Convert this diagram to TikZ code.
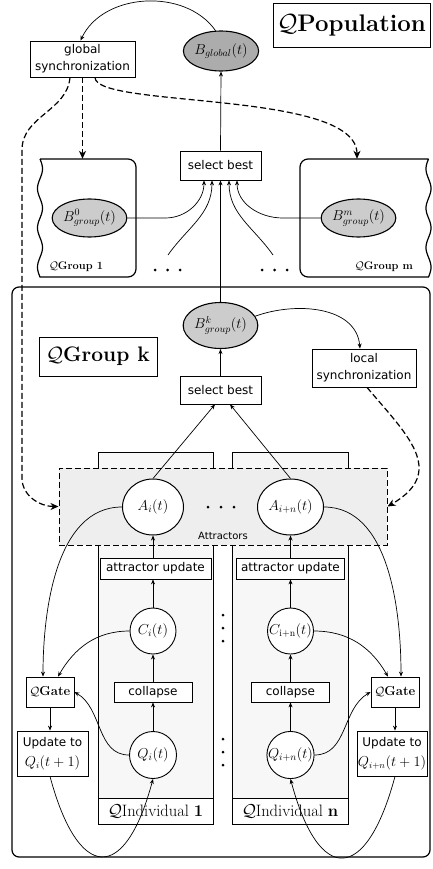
\documentclass[tikz,border=0pt]{standalone}
\usepackage{fontspec}
\newfontfamily\dvs{DejaVu Sans}
\usetikzlibrary{shapes.geometric,arrows.meta,calc}
\begin{document}
\begin{tikzpicture}[x=1pt,y=-1pt,
  conn/.style={line width=0.7pt,-{Stealth[length=5pt,width=4pt]}},
  dconn/.style={line width=1.2pt,dash pattern=on 6pt off 3pt,-{Stealth[length=8pt,width=7pt,inset=2.5pt]}},
  box/.style={draw,line width=0.8pt,fill=white,inner sep=0pt,align=center},
  sbox/.style={box,font=\dvs\fontsize{12}{14}\selectfont},
  ell/.style={draw,ellipse,line width=1.1pt,inner sep=0pt,font=\fontsize{14}{16}\selectfont},
  circ/.style={draw,circle,line width=0.9pt,inner sep=0pt,minimum size=47pt,fill=white,font=\fontsize{14}{16}\selectfont},
  gline/.style={line width=1.2pt},
  panel/.style={draw,line width=0.7pt,fill=gray!6,inner sep=0pt}
]
\useasboundingbox (0,0) rectangle (432,869);

% ---- QPopulation level
\node[box,minimum width=157pt,minimum height=44pt,font=\fontsize{24}{28}\selectfont] (pop) at (351.5,25) {$\mathcal{Q}$\textbf{Population}};
\node[sbox,minimum width=105pt,minimum height=36pt,font=\dvs\fontsize{12}{17}\selectfont] (gsync) at (82.5,59) {global\\synchronization};
\node[ell,fill=gray!65,minimum width=72pt,minimum height=40pt] (bglob) at (221,51) {$B_{global}(t)$};
\node[sbox,minimum width=81pt,minimum height=29pt] (sbtop) at (220.5,165.5) {select best};

% group 1 and group m
\node[minimum width=98pt,minimum height=118pt,inner sep=0pt] (grp1) at (87,218) {};
\node[minimum width=130pt,minimum height=118pt,inner sep=0pt] (grpm) at (365,218) {};
\draw[gline] plot[domain=159:277,samples=90] ({40+2.5*sin((\x-159)*9.15)},\x) [rounded corners=8pt] -- (136,277) -- (136,159) -- (40,159);
\draw[gline] plot[domain=159:277,samples=90] ({428.5-2.5*sin((\x-159)*9.15)},\x) [rounded corners=8pt] -- (300,277) -- (300,159) -- (428.5,159);
\node[font=\fontsize{11}{13}\selectfont] (g1lab) at (76,267) {$\mathcal{Q}$\textbf{Group 1}};
\node[font=\fontsize{11}{13}\selectfont] (gmlab) at (384,267) {$\mathcal{Q}$\textbf{Group m}};
\node[ell,fill=gray!40,minimum width=73pt,minimum height=38pt] (b0) at (89.5,218) {$B^{0}_{group}(t)$};
\node[ell,fill=gray!40,minimum width=71pt,minimum height=38pt] (bm) at (358.5,218) {$B^{m}_{group}(t)$};
\coordinate (f1) at (168,255);
\coordinate (f2) at (273,255);

% ---- Group k
\node[draw,gline,rounded corners=7pt,minimum width=418pt,minimum height=570pt,inner sep=0pt] (grpk) at (221,572) {};
\node[ell,fill=gray!40,minimum width=73pt,minimum height=46pt] (bk) at (220.5,325.5) {$B^{k}_{group}(t)$};
\node[box,minimum width=118pt,minimum height=39pt,font=\fontsize{21}{24}\selectfont] (qgk) at (98,356.5) {$\mathcal{Q}$\textbf{Group k}};
\node[sbox,minimum width=81pt,minimum height=28pt] (sbk) at (220.5,390) {select best};
\node[sbox,minimum width=104pt,minimum height=38pt,font=\dvs\fontsize{12}{17}\selectfont] (lsync) at (364,368) {local\\synchronization};

% panels
\node[panel,minimum width=115pt,minimum height=372pt] (p1) at (155.5,638) {};
\node[panel,minimum width=116pt,minimum height=372pt] (p2) at (290,638) {};
\node[draw,line width=1pt,dash pattern=on 6pt off 3pt,fill=gray!13,minimum width=328pt,minimum height=77pt,inner sep=0pt] (att) at (223,506.5) {};
\node[font=\dvs\fontsize{10}{12}\selectfont] (attlab) at (223,536) {Attractors};

\node[ell,fill=white,line width=1pt,minimum width=61pt,minimum height=56pt] (Ai) at (153,507) {$A_i(t)$};
\node[ell,fill=white,line width=1pt,minimum width=66pt,minimum height=56pt] (Ain) at (290.5,507) {$A_{i+n}(t)$};
\node[sbox,minimum width=111pt,minimum height=21pt] (au1) at (155.5,568.5) {attractor update};
\node[sbox,minimum width=108pt,minimum height=21pt] (au2) at (290.5,568.5) {attractor update};
\node[circ,minimum size=46pt] (Ci) at (153,631) {$C_i(t)$};
\node[circ,minimum size=46pt] (Cin) at (290.5,631) {$C_{\mathrm{i+n}}(t)$};
\node[sbox,minimum width=78pt,minimum height=20pt] (col1) at (153,692) {collapse};
\node[sbox,minimum width=78pt,minimum height=20pt] (col2) at (290.5,692) {collapse};
\node[box,minimum width=48pt,minimum height=30pt,font=\fontsize{13}{15}\selectfont] (qg1) at (50,692) {$\mathcal{Q}$\textbf{Gate}};
\node[box,minimum width=48pt,minimum height=30pt,font=\fontsize{13}{15}\selectfont] (qg2) at (395,692) {$\mathcal{Q}$\textbf{Gate}};
\node[circ] (Qi) at (153,755) {$Q_i(t)$};
\node[circ] (Qin) at (290.5,755) {$Q_{i+n}(t)$};
\node[sbox,minimum width=71pt,minimum height=45pt,font=\dvs\fontsize{12}{20}\selectfont] (up1) at (52.5,753.5) {Update to\\{\fontsize{13.5}{15}\selectfont$Q_i(t+1)$}};
\node[sbox,minimum width=70pt,minimum height=45pt,font=\dvs\fontsize{12}{20}\selectfont] (up2) at (392,753.5) {Update to\\{\fontsize{13.5}{15}\selectfont$Q_{i+n}(t+1)$}};
\node[box,minimum width=115pt,minimum height=26pt,font=\fontsize{16.5}{18}\selectfont] (ind1) at (155.5,811) {$\mathcal{Q}$Individual \textbf{1}};
\node[box,minimum width=116pt,minimum height=26pt,font=\fontsize{16.5}{18}\selectfont] (ind2) at (290,811) {$\mathcal{Q}$Individual \textbf{n}};

% dots
\foreach \p in {(155,270),(167.5,270),(180,270),(262,270),(274.5,270),(287,270),(208,507),(221,507),(234,507),(223,615),(223,628),(223,641),(223,739),(223,752),(223,765)}
  \fill \p circle (1.5pt);

% ---- connectors, top level
\draw[conn] (bglob.105) to[out=125,in=65] ([xshift=-2pt]gsync.north);
\draw[conn] (sbtop.north) -- (bglob.south);
\coordinate (L1) at (22,150);
\coordinate (L2) at (22,478);
\draw[dconn] ([xshift=-12.5pt]gsync.south) to[out=-95,in=90] (L1) -- (L2) to[out=-90,in=180] (att.west);
\draw[dconn] (gsync.south) -- (gsync.south |- grp1.north);
\draw[dconn] ([xshift=12.5pt]gsync.south) to[out=-90,in=90,out distance=31pt,in distance=69pt] ([xshift=-8pt]grpm.north);
\draw[conn] (b0.east) -- ++(38,0) to[out=0,in=-90] ([xshift=-16.5pt]sbtop.south);
\draw[conn] (bm.west) -- ++(-38,0) to[out=180,in=-90] ([xshift=16.5pt]sbtop.south);
\draw[conn] (f1) to[out=55,in=-90] ([xshift=-8.5pt]sbtop.south);
\draw[conn] (f2) to[out=125,in=-90] ([xshift=8.5pt]sbtop.south);
\draw[conn] (bk.north) -- (sbtop.south);

% ---- group k connectors
\draw[conn] (sbk.north) -- (bk.south);
\draw[conn] (bk.15) to[out=20,in=95] ([xshift=-4pt]lsync.north);
\draw[dconn] ([xshift=3pt]lsync.south) to[out=-50,in=30,out distance=60pt,in distance=70pt] (att.east);
\draw[conn] (Ai.north) -- ([xshift=-5.5pt]sbk.south);
\draw[conn] (Ain.north) -- ([xshift=9.5pt]sbk.south);

% columns
\draw[conn] (Qi.north) -- (col1.south);
\draw[conn] (col1.north) -- (Ci.south);
\draw[conn] (Ci.north) -- (Ci.north |- au1.south);
\draw[conn] (Ci.north |- au1.north) -- (Ai.south);
\draw[conn] (Qin.north) -- (col2.south);
\draw[conn] (col2.north) -- (Cin.south);
\draw[conn] (Cin.north) -- (au2.south);
\draw[conn] (au2.north) -- (Ain.south);

% left gate
\draw[conn] (Ai.west) to[out=180,in=90,looseness=0.9] ([xshift=-7pt]qg1.north);
\draw[conn] (Ci.west) to[out=180,in=60] ([xshift=8pt]qg1.north);
\draw[conn] (Qi.west) to[out=180,in=-30] (qg1.east);
\draw[conn] (qg1.south) -- (qg1.south |- up1.north);
\draw[conn] (qg1.south |- up1.south) to[out=-75,in=-105,looseness=2.7] (Qi.south);

% right gate
\draw[conn] (Ain.east) to[out=0,in=90,looseness=0.9] ([xshift=6pt]qg2.north);
\draw[conn] (Cin.east) to[out=0,in=120] ([xshift=-7pt]qg2.north);
\draw[conn] (Qin.east) to[out=0,in=-150] (qg2.west);
\draw[conn] (qg2.south) -- (qg2.south |- up2.north);
\draw[conn] (qg2.south |- up2.south) to[out=-105,in=-75,looseness=2.7] (Qin.south);
\end{tikzpicture}
\end{document}
